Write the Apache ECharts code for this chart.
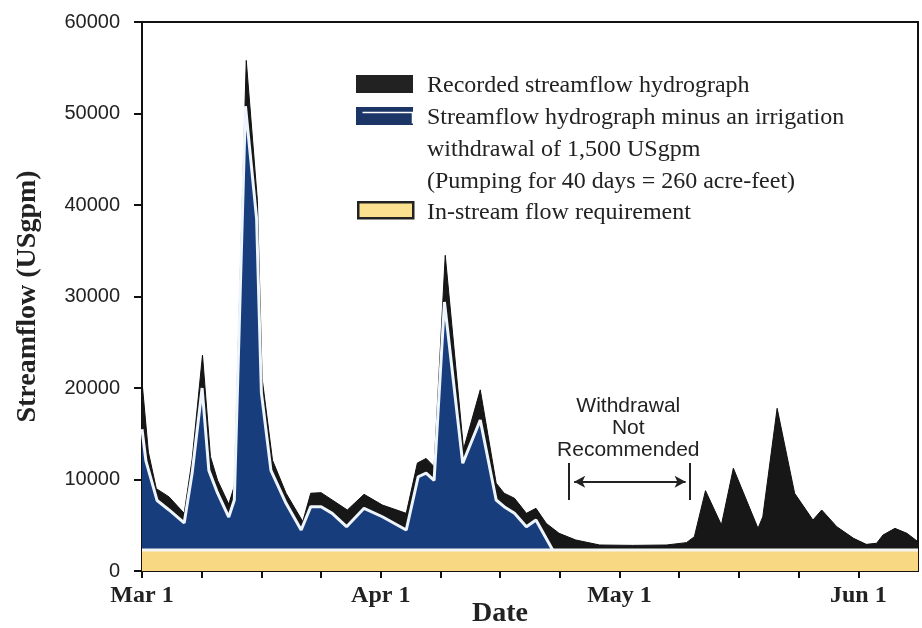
<!DOCTYPE html>
<html>
<head>
<meta charset="utf-8">
<script src="https://cdn.jsdelivr.net/npm/echarts@6/dist/echarts.min.js"></script>
<style>
html, body { margin: 0; padding: 0; background: #fff; }
#main { width: 922px; height: 628px; }
</style>
</head>
<body>
<div id="main"></div>
<script>
// days counted from Mar 1 (axis drawn with 30-day months, 4 ticks per month)
var recordedDays = [0, 0.8, 1.8, 3.4, 5.3, 6.3, 7.6, 8.6, 9.5, 10.9, 11.6, 13.1, 14.5, 15.1, 16.4, 18.1, 20.2,
	21.2, 22.5, 23.9, 25.8, 27.9, 30.2, 33.2, 34.6, 35.7, 36.7, 38.1, 40.4, 42.5, 44.5, 45.5, 46.8, 48.3,
	49.5, 50.8, 52.4, 54.5, 57.5, 61.6, 65.9, 68.4, 69.4, 70.8, 72.8, 74.3, 77.4, 78.0, 79.8, 82.0, 84.3,
	85.4, 87.3, 89.4, 91.0, 92.3, 93.1, 94.6, 96.1, 97.5];
var recordedFlow = [20700, 13000, 9000, 8100, 6300, 12200, 23600, 12500, 9900, 7300, 9300, 55800, 40500, 21000, 12100, 8500, 5400,
	8500, 8560, 7760, 6670, 8380, 7210, 6300, 11800, 12300, 11400, 34500, 13300, 19800, 9600, 8500, 7950, 6300,
	6850, 5200, 4120, 3390, 2840, 2800, 2840, 3100, 3750, 8780, 5030, 11230, 4660, 5930, 17780, 8490, 5570,
	6670, 4840, 3570, 2910, 3030, 3930, 4660, 4120, 3200];

var withdrawalDays = [0, 0.5, 1.9, 3.4, 5.3, 6.3, 7.55, 8.4, 9.5, 10.9, 11.6, 13.0, 14.4, 15.0, 16.2, 18.1, 20.0,
	21.2, 22.5, 23.9, 25.7, 27.9, 30.2, 33.2, 34.7, 35.7, 36.7, 38.0, 40.3, 42.5, 44.5, 45.5, 46.8, 48.3,
	49.5, 51.6];
var withdrawalFlow = [15500, 12000, 7700, 6670, 5250, 10700, 20000, 11000, 8500, 5900, 7760, 50800, 38500, 19500, 11000, 7400, 4480,
	7030, 7030, 6300, 4840, 6850, 5930, 4480, 10300, 10700, 9900, 29400, 11770, 16500, 7760, 7030, 6300, 4840,
	5570, 2300];

var instreamDays = [0, 97.5];
var instreamFlow = [2300, 2300];

var labelDays = [0, 30, 60, 90];
var labelText = ["Mar 1", "Apr 1", "May 1", "Jun 1"];

var legendText = [
	"Recorded streamflow hydrograph",
	"Streamflow hydrograph minus an irrigation",
	"withdrawal of 1,500 USgpm",
	"(Pumping for 40 days = 260 acre-feet)",
	"In-stream flow requirement"
];

function pairs(xs, ys){
	var out = [];
	for(var i=0; i<xs.length; i++) out.push([xs[i], ys[i]]);
	return out;
}

var serif = "'Liberation Serif', 'Times New Roman', serif";
var sans = "'Liberation Sans', Arial, sans-serif";

var myChart = echarts.init(document.getElementById("main"));

var option = {
	animation: false,
	backgroundColor: "#fff",
	grid: {
		left: 142, right: 4, top: 22, bottom: 57, containLabel: false, outerBoundsMode: "none",
		show: true, borderColor: "#111", borderWidth: 2, backgroundColor: "transparent"
	},
	xAxis: {
		type: "value", min: 0, max: 97.5, interval: 7.5,
		name: "Date", nameLocation: "middle", nameGap: 29, nameMoveOverlap: false,
		nameTextStyle: { fontFamily: serif, fontWeight: "bold", fontSize: 28, color: "#222", padding: [0, 60, 0, 0] },
		axisLine: { lineStyle: { color: "#111", width: 2 } },
		axisTick: { show: true, length: 7, lineStyle: { color: "#111", width: 2 } },
		splitLine: { show: false },
		axisLabel: {
			margin: 13, fontFamily: serif, fontWeight: "bold", fontSize: 24, color: "#222",
			showMaxLabel: false,
			formatter: function(v){
				var i = labelDays.indexOf(v);
				return i > -1 ? labelText[i] : "";
			}
		}
	},
	yAxis: {
		type: "value", min: 0, max: 60000, interval: 10000,
		name: "Streamflow (USgpm)", nameLocation: "middle", nameGap: 100, nameMoveOverlap: false,
		nameTextStyle: { fontFamily: serif, fontWeight: "bold", fontSize: 28, color: "#222" },
		axisLine: { show: true, lineStyle: { color: "#111", width: 2 } },
		axisTick: { show: true, length: 8, lineStyle: { color: "#111", width: 2 } },
		splitLine: { show: false },
		axisLabel: {
			margin: 22, fontFamily: sans, fontSize: 20, color: "#222",
			formatter: function(v){ return String(v); }
		}
	},
	series: [
		{
			name: "recorded", type: "line", z: 1, symbol: "none",
			data: pairs(recordedDays, recordedFlow),
			lineStyle: { color: "#111", width: 1 },
			areaStyle: { color: "#171717", opacity: 1 },
			markPoint: {
				symbol: "circle", symbolSize: 0, silent: true,
				data: [{ coord: [61.1, 15600] }],
				label: {
					show: true, position: "inside", formatter: "Withdrawal\nNot\nRecommended",
					fontFamily: sans, fontSize: 21, lineHeight: 22, color: "#222", align: "center"
				}
			},
			markLine: {
				silent: true, symbol: "none", label: { show: false },
				lineStyle: { color: "#222", width: 2, type: "solid" },
				data: [
					[{ coord: [53.6, 7760] }, { coord: [53.6, 11800] }],
					[{ coord: [68.8, 7760] }, { coord: [68.8, 11800] }],
					[{ coord: [54.3, 9760], symbol: "arrow", symbolSize: [9, 11] }, { coord: [68.3, 9760], symbol: "arrow", symbolSize: [9, 11] }]
				]
			}
		},
		{
			name: "withdrawal", type: "line", z: 2, symbol: "none",
			data: pairs(withdrawalDays, withdrawalFlow),
			lineStyle: { color: "#eef5fc", width: 3 },
			areaStyle: { color: "#183d7c", opacity: 1 }
		},
		{
			name: "instream", type: "line", z: 3, symbol: "none",
			data: pairs(instreamDays, instreamFlow),
			lineStyle: { color: "#f4f4f0", width: 3 },
			areaStyle: { color: "#f8d882", opacity: 1 }
		}
	],
	graphic: [
		{ type: "rect", left: 356, top: 75, shape: { width: 57, height: 18 }, style: { fill: "#222" } },
		{ type: "rect", left: 356, top: 107, shape: { width: 57, height: 18 }, style: { fill: "#1a3566" } },
		{ type: "polyline", left: 360, top: 110, shape: { points: [[0, 0], [50, 0], [50, 11]] }, style: { stroke: "#fff", lineWidth: 1.5, fill: null } },
		{ type: "rect", left: 357, top: 201, shape: { width: 55, height: 16 }, style: { fill: "#fbe18f", stroke: "#222", lineWidth: 2.5 } },
		{ type: "text", left: 427, top: 74, style: { text: legendText[0], font: "24px " + serif, fill: "#222" } },
		{ type: "text", left: 427, top: 106, style: { text: legendText[1], font: "24px " + serif, fill: "#222" } },
		{ type: "text", left: 427, top: 138, style: { text: legendText[2], font: "24px " + serif, fill: "#222" } },
		{ type: "text", left: 427, top: 170, style: { text: legendText[3], font: "24px " + serif, fill: "#222" } },
		{ type: "text", left: 427, top: 201, style: { text: legendText[4], font: "24px " + serif, fill: "#222" } }
	]
};

myChart.setOption(option);
</script>
</body>
</html>
